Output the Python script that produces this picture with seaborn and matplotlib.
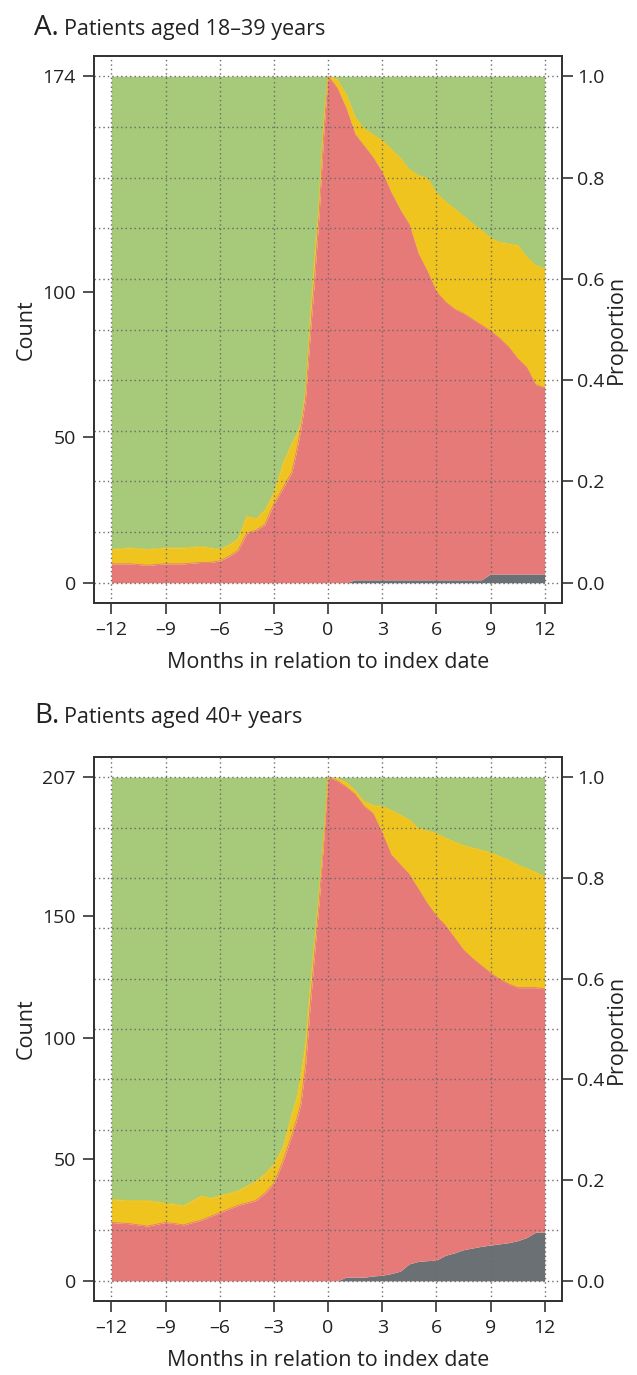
import numpy as np
import pandas as pd
import matplotlib
matplotlib.use("Agg")
import matplotlib.pyplot as plt
import seaborn as sns

# ---------------- data ----------------
months = [-12, -11, -10, -9, -8, -7, -6.5, -6, -5.5, -5, -4.5, -4, -3.5, -3, -2.5, -2,
          -1.75, -1.5, -1.25, -1, -0.75, -0.5, -0.25, 0, 0.5, 1, 1.5, 2, 2.5, 3, 3.5, 4,
          4.5, 5, 5.5, 6, 6.5, 7, 7.5, 8, 8.5, 9, 9.5, 10, 10.5, 11, 11.5, 12]

# Panel A: patients aged 18-39 (N = 174); cumulative stack tops (counts)
a_total = 174
a_gray = [0, 0, 0, 0, 0, 0, 0, 0, 0, 0, 0, 0, 0, 0, 0, 0,
          0, 0, 0, 0, 0, 0, 0, 0, 0, 0, 1, 1, 1, 1, 1, 1,
          1, 1, 1, 1, 1, 1, 1, 1, 1, 3, 3, 3, 3, 3, 3, 3]
a_red = [6.5, 6.5, 6.0, 6.5, 6.5, 7, 7, 7.5, 9, 11, 17, 18, 20, 27, 32.5, 38,
         45, 53, 63, 84, 104, 126, 153, 174, 170, 163, 154, 150, 146, 141, 134, 128,
         123, 113, 107, 100, 96.5, 94, 92.5, 90.5, 88.5, 86.5, 84, 81, 77, 74, 68, 67]
a_yellow = [11.5, 12, 11.5, 12, 12, 12.5, 12, 11.5, 13, 15, 23, 22, 25, 31, 41, 48,
            51, 55, 66, 90, 112, 131, 159, 174, 173, 168, 160, 156, 154, 152, 149, 146,
            142, 140, 139, 134, 131, 128.5, 126, 123.5, 121, 118.5, 117, 116.5, 116, 112, 109, 108]

# Panel B: patients aged 40+ (N = 207)
b_total = 207
b_gray = [0, 0, 0, 0, 0, 0, 0, 0, 0, 0, 0, 0, 0, 0, 0, 0,
          0, 0, 0, 0, 0, 0, 0, 0, 0, 1.5, 1.5, 1.5, 2, 2.3, 3, 4,
          7, 8, 8.3, 8.5, 10.5, 11.5, 12.8, 13.5, 14.2, 14.7, 15.2, 15.7, 16.5, 17.8, 20, 20]
b_red = [24, 23.5, 22.5, 24, 23, 25, 26.5, 28, 29.5, 31, 32, 33, 36, 40, 49, 60,
         66, 73, 88, 112, 134, 155, 180, 207, 205.5, 203, 200, 195, 192, 184, 175, 171,
         167, 161, 155, 150, 146, 141, 136, 132.5, 129.5, 126.5, 124, 122, 120.5, 120.5, 120.5, 120]
b_yellow = [33.5, 33, 33, 32, 31, 35, 34, 35, 36, 37, 39, 41, 44, 48, 55, 69,
            75, 85, 98, 120, 140, 160, 182, 207, 206.5, 205, 201.5, 197, 195.5, 195, 193.5, 191.5,
            189.5, 186, 185, 184, 182, 180.5, 179, 178, 177, 176, 174.5, 173, 171, 169.5, 168, 166]

x_ticks = [-12, -9, -6, -3, 0, 3, 6, 9, 12]
x_tick_labels = ["\u201312", "\u20139", "\u20136", "\u20133", "0", "3", "6", "9", "12"]
a_count_ticks = [0, 50, 100, 174]
b_count_ticks = [0, 50, 100, 150, 207]
prop_ticks = [0.0, 0.2, 0.4, 0.6, 0.8, 1.0]
prop_grid = [0.0, 0.1, 0.2, 0.3, 0.4, 0.5, 0.6, 0.7, 0.8, 0.9, 1.0]

titles = [("A.", "Patients aged 18\u201339 years"), ("B.", "Patients aged 40+ years")]

# ---------------- style ----------------
sns.set_theme(style="ticks")
plt.rcParams["font.family"] = ["Open Sans", "DejaVu Sans"]

C_GREEN = "#a6c97a"
C_YELLOW = "#f0c41e"
C_RED = "#e67a78"
C_GRAY = "#6b7075"
C_AX = "#333333"
C_GRID = "#6a6a6a"
C_TXT = "#222222"

W, H = 637, 1375
fig = plt.figure(figsize=(W / 100, H / 100), dpi=100)
fig.patch.set_facecolor("white")

def fx(px):
    return px / W

def fy(py):
    return 1 - py / H

panels = [
    dict(total=a_total, gray=a_gray, red=a_red, yellow=a_yellow, cticks=a_count_ticks,
         top=56, bottom=603, title_y=35),
    dict(total=b_total, gray=b_gray, red=b_red, yellow=b_yellow, cticks=b_count_ticks,
         top=757, bottom=1301, title_y=723),
]

left_px, right_px = 94, 562
TICK_FS = 14
LABEL_FS = 15.5

for i, p in enumerate(panels):
    ax = fig.add_axes([fx(left_px), fy(p["bottom"]), fx(right_px - left_px),
                       (p["bottom"] - p["top"]) / H])
    N = p["total"]
    df = pd.DataFrame({"month": months, "gray": p["gray"], "red": p["red"],
                       "yellow": p["yellow"], "total": [N] * len(months)})
    ax.fill_between(df["month"], 0, df["gray"], color=C_GRAY, lw=0, zorder=1)
    ax.fill_between(df["month"], df["gray"], df["red"], color=C_RED, lw=0, zorder=1)
    ax.fill_between(df["month"], df["red"], df["yellow"], color=C_YELLOW, lw=0, zorder=1)
    ax.fill_between(df["month"], df["yellow"], df["total"], color=C_GREEN, lw=0, zorder=1)
    # thin edges via seaborn
    sns.lineplot(data=df, x="month", y="red", ax=ax, color=C_RED, lw=0.6, zorder=1.2)
    sns.lineplot(data=df, x="month", y="yellow", ax=ax, color=C_YELLOW, lw=0.6, zorder=1.2)

    ax.set_xlim(-12.96, 12.96)
    ax.set_ylim(-0.04 * N, 1.04 * N)
    ax.set_xticks(x_ticks)
    ax.set_xticklabels(x_tick_labels)
    ax.set_yticks(p["cticks"])
    ax.set_yticklabels([str(v) for v in p["cticks"]])
    ax.set_axisbelow(False)
    ax.grid(axis="x", color=C_GRID, linestyle=(0, (1, 2.2)), lw=1.0, zorder=2.5)
    ax.set_xlabel("Months in relation to index date", fontsize=LABEL_FS, color=C_TXT, labelpad=9)
    ax.set_ylabel("Count", fontsize=LABEL_FS, color=C_TXT, labelpad=4)

    ax2 = ax.twinx()
    ax2.set_ylim(-0.04, 1.04)
    ax2.set_yticks(prop_ticks)
    ax2.set_yticklabels([f"{v:.1f}" for v in prop_ticks])
    ax2.set_yticks(prop_grid, minor=True)
    ax2.grid(axis="y", which="both", color=C_GRID, linestyle=(0, (1, 2.2)), lw=1.0)
    ax2.tick_params(axis="y", which="minor", length=0)

    for a in (ax, ax2):
        for s in a.spines.values():
            s.set_color(C_AX)
            s.set_linewidth(1.3)
        a.tick_params(axis="both", which="major", direction="out", length=8, width=1.2,
                      color=C_AX, labelsize=TICK_FS, labelcolor=C_TXT, pad=5)
    ax2.tick_params(axis="y", which="major", pad=3)
    ax2.set_ylabel("Proportion", fontsize=LABEL_FS, color=C_TXT, labelpad=1)

    # panel title
    letter, text = titles[i]
    fig.text(fx(34), fy(p["title_y"]), letter, fontsize=20, color=C_TXT,
             ha="left", va="baseline")
    fig.text(fx(64), fy(p["title_y"]), text, fontsize=15.5, color=C_TXT,
             ha="left", va="baseline")

fig.savefig("out.png", dpi=100, facecolor="white")
